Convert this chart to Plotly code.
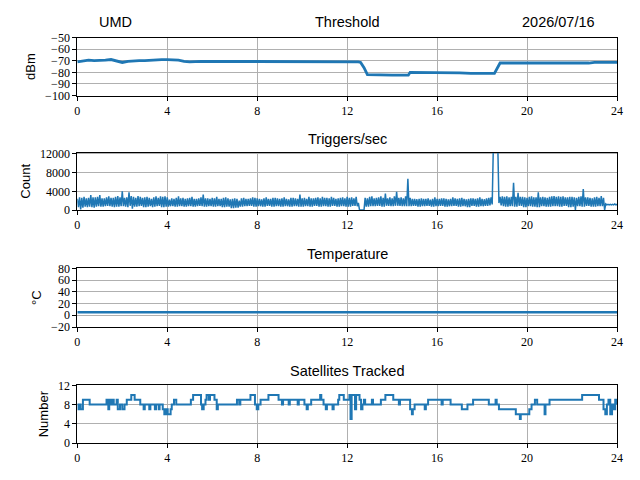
import numpy as np
import plotly.graph_objects as go
from plotly.subplots import make_subplots

# 閾値 (dBm)
thr_hours = [0, 0.25, 0.5, 0.75, 1.0, 1.25, 1.5, 1.75, 2.0, 2.25, 2.5, 2.75,
             3.0, 3.25, 3.5, 3.75, 4.0, 4.25, 4.5, 4.75, 5.0, 5.5, 6.0, 6.5,
             7.0, 7.5, 8.0, 8.5, 9.0, 9.5, 10.0, 10.5, 11.0, 11.5, 12.0, 12.5,
             12.6, 12.75, 12.9, 13.5, 14.0, 14.5, 14.72, 14.8, 15.0, 15.5,
             16.0, 16.5, 17.0, 17.5, 18.0, 18.4, 18.55, 18.8, 19.0, 19.5,
             20.0, 20.5, 21.0, 21.5, 22.0, 22.25, 22.5, 22.75, 23.0, 23.5, 24.0]
thr_dbm = [-71, -70.5, -69.5, -70, -70, -69.5, -69, -70, -71.5, -70.5, -70, -70,
           -70, -69.5, -69, -69, -69, -69, -69.5, -70.5, -71, -70.5, -70.5, -70.5,
           -70.5, -70.5, -70.5, -70.5, -70.5, -70.5, -70.5, -71, -71, -71, -71, -71,
           -71.5, -76, -82, -82.5, -82.5, -82.5, -82.5, -80, -80, -80,
           -80, -80, -80.5, -81, -81, -81.5, -81, -72, -72, -72,
           -72, -72, -72, -72, -72, -72.5, -72.5, -72, -71.5, -71.5, -71.5]

# トリガー数: 0.1時間ごとの最大値と最小値
trig_max = [
    2400, 2700, 2600, 2800, 2500, 2600, 3200, 2700, 2700, 2800,
    3200, 2500, 2500, 2700, 2900, 2600, 2600, 2800, 3000, 2700,
    4000, 2600, 2700, 3800, 3000, 2800, 2600, 3000, 2800, 2600,
    2700, 2800, 2600, 2400, 2700, 2900, 2600, 2900, 2800, 2900,
    2700, 2200, 2500, 2400, 2600, 2900, 2500, 2600, 2400, 2500,
    2600, 2800, 2400, 2400, 2500, 2700, 3300, 2500, 2500, 2400,
    2600, 2500, 2800, 2400, 2400, 2600, 2700, 2500, 2300, 2400,
    2500, 2400, 2000, 2500, 2600, 2400, 2400, 2500, 2700, 2600,
    2500, 2400, 2300, 2500, 2700, 2400, 2400, 2600, 2600, 2500,
    2400, 2500, 2700, 2400, 2300, 2600, 2600, 2500, 2400, 3300,
    2500, 2600, 2400, 2800, 2500, 2500, 2600, 2700, 2500, 2800,
    2600, 2600, 2500, 2800, 2600, 2400, 2500, 2600, 2700, 2500,
    2800, 2600, 2700, 2500, 2800, 1500, 0, 0, 2600, 2500,
    2800, 2900, 2500, 2600, 2700, 2900, 2600, 3500, 2500, 2700,
    2500, 2900, 3900, 2600, 2700, 2500, 2900, 6700, 2600, 2400,
    2400, 2300, 2400, 2500, 2400, 2400, 2500, 2200, 2400, 2700,
    2400, 2400, 2500, 2500, 2400, 2300, 2400, 2700, 2500, 2400,
    2500, 2600, 2400, 2300, 2400, 2500, 2500, 2400, 2500, 2700,
    2400, 2300, 2500, 2600, 2700, 13500, 13500, 13500, 2800, 2900,
    2800, 2900, 2700, 2800, 5800, 2800, 3700, 2800, 2800, 2700,
    2600, 2800, 2900, 2700, 2700, 3800, 2700, 2800, 2700, 2600,
    2800, 2900, 3000, 2800, 2900, 2800, 2900, 2700, 2700, 2800,
    2800, 2700, 2600, 2800, 2900, 4500, 2700, 2700, 2600, 2500,
    2700, 2800, 2600, 3000, 2600, 1300, 1200, 1200, 1200, 1300,
    1200,
]
trig_min = [
    600, 100, 500, 700, 600, 700, 600, 500, 700, 800,
    700, 700, 800, 900, 800, 700, 600, 700, 700, 800,
    800, 700, 600, 900, 300, 700, 700, 800, 900, 600,
    600, 700, 800, 600, 700, 800, 900, 600, 600, 700,
    700, 800, 800, 700, 700, 800, 800, 700, 700, 800,
    800, 700, 700, 800, 900, 800, 700, 700, 800, 800,
    700, 700, 800, 800, 600, 600, 700, 700, 400, 400,
    500, 500, 700, 700, 800, 800, 900, 900, 700, 700,
    800, 800, 700, 700, 900, 900, 700, 700, 800, 800,
    700, 700, 800, 800, 700, 700, 800, 800, 700, 700,
    700, 800, 800, 700, 700, 900, 900, 700, 700, 800,
    800, 700, 700, 900, 900, 700, 700, 800, 800, 700,
    700, 700, 900, 900, 800, 0, 0, 0, 700, 700,
    800, 800, 800, 900, 900, 700, 700, 900, 900, 800,
    800, 900, 900, 900, 800, 800, 800, 800, 800, 900,
    900, 700, 700, 800, 800, 900, 900, 700, 700, 800,
    800, 900, 900, 700, 700, 800, 800, 900, 900, 700,
    700, 800, 800, 600, 600, 900, 900, 700, 700, 800,
    800, 900, 900, 1000, 1200, 13000, 13000, 1500, 1000, 800,
    700, 700, 800, 800, 700, 700, 900, 900, 600, 600,
    800, 800, 700, 700, 600, 600, 800, 800, 700, 700,
    700, 800, 800, 800, 700, 700, 900, 900, 600, 600,
    700, 0, 800, 800, 700, 700, 900, 900, 700, 700,
    700, 800, 800, 800, 0, 1100, 1100, 1100, 1100, 1100,
    1100,
]
assert len(trig_max) == len(trig_min) == 241
trig_bins = np.arange(len(trig_max)) * 0.1
trig_hours = np.empty(2 * len(trig_bins))
trig_hours[0::2] = trig_bins
trig_hours[1::2] = trig_bins + 0.05
trig_counts = np.empty(2 * len(trig_bins))
trig_counts[0::2] = trig_max
trig_counts[1::2] = trig_min

# 温度 (°C)
temp_hours = [0, 4, 8, 12, 16, 20, 24]
temp_c = [5, 5, 5, 5, 5, 5, 5]

# 追尾衛星数
sat_hours = [
    0.00, 0.05, 0.10, 0.15, 0.25, 0.55,
    1.30, 1.38, 1.42, 1.50, 1.58, 1.62, 1.75, 1.80, 1.90, 2.00, 2.10, 2.20,
    2.40, 2.55, 2.80, 2.95, 3.00, 3.20, 3.25, 3.45, 3.50, 3.62, 3.66, 3.80,
    3.87, 3.95, 4.02, 4.15, 4.20, 4.30, 4.40,
    5.05, 5.15, 5.50, 5.55, 5.62, 5.70, 5.75, 5.85, 5.90, 6.10, 6.20, 6.25, 6.40,
    7.10, 7.20, 7.25, 7.70, 7.90, 7.98, 8.05, 8.15, 8.50, 8.95, 9.10, 9.15,
    9.40, 9.45, 9.80, 9.85, 10.10, 10.20, 10.25, 10.40,
    10.80, 10.85, 10.95, 11.05, 11.10, 11.35, 11.40, 11.60, 11.65, 11.85,
    12.10, 12.15, 12.20, 12.35, 12.40, 12.55, 12.62, 12.68, 12.75, 12.80,
    13.10, 13.15, 13.50, 13.70, 14.05, 14.30, 14.35, 14.80, 14.88, 14.92,
    15.00, 15.45, 15.50, 15.60, 15.90, 16.20, 16.25, 16.60, 17.10, 17.35,
    17.60, 18.30, 18.60, 18.65, 18.75, 19.20, 19.50, 19.68, 19.72, 20.10,
    20.20, 20.35, 20.45, 20.78, 20.82, 21.00, 22.45, 23.20, 23.40, 23.48,
    23.55, 23.62, 23.70, 23.78, 23.85, 23.92, 24.00,
]
sat_counts = [
    8, 7, 8, 7, 9, 8,
    9, 7, 9, 8, 9, 8, 9, 7, 8, 7, 8, 9,
    10, 9, 8, 7, 8, 7, 8, 7, 8, 7, 8, 7,
    6, 7, 6, 7, 8, 9, 8,
    9, 10, 8, 7, 8, 9, 10, 9, 10, 9, 7, 8, 8,
    9, 8, 9, 10, 8, 7, 8, 9, 10, 9, 8, 9,
    8, 9, 8, 9, 8, 7, 8, 9,
    10, 9, 8, 7, 8, 7, 8, 9, 10, 9,
    10, 5, 10, 7, 10, 9, 7, 8, 9, 8,
    9, 8, 9, 10, 9, 8, 9, 7, 6, 7,
    8, 7, 8, 9, 9, 8, 9, 8, 7, 8,
    9, 8, 9, 8, 7, 7, 6, 5, 6, 7,
    8, 9, 8, 6, 8, 9, 10, 9, 7, 6,
    8, 9, 6, 8, 7, 9, 8,
]
assert len(sat_hours) == len(sat_counts)
assert len(thr_hours) == len(thr_dbm)

# ページ余白 8px を考慮して図を少し小さくする
W, H, OFF = 624, 464, 8


def px_x(px):
    return (px - OFF) / W


def px_y(py):
    return 1 - (py - OFF) / H


line_color = '#1f77b4'
tick_font = dict(family='Liberation Serif', size=12, color='black')
label_font = dict(family='Liberation Sans', size=13, color='black')

fig = make_subplots(rows=4, cols=1)

fig.add_trace(go.Scatter(x=thr_hours, y=thr_dbm, mode='lines',
                         line=dict(color=line_color, width=2.8)), row=1, col=1)
fig.add_trace(go.Scatter(x=trig_hours, y=trig_counts, mode='lines',
                         line=dict(color=line_color, width=1.5)), row=2, col=1)
fig.add_trace(go.Scatter(x=temp_hours, y=temp_c, mode='lines',
                         line=dict(color=line_color, width=2.5)), row=3, col=1)
fig.add_trace(go.Scatter(x=sat_hours, y=sat_counts, mode='lines', line_shape='hv',
                         line=dict(color=line_color, width=2)), row=4, col=1)

# 各パネルの位置 (ピクセルから換算)
x_dom = [px_x(77.3), px_x(617)]
y_doms = [
    [px_y(95.5), px_y(37.5)],
    [px_y(210), px_y(152.6)],
    [px_y(327), px_y(268.3)],
    [px_y(443), px_y(385.3)],
]
y_ranges = [[-100, -50], [0, 12280], [-20, 80], [0, 12]]
y_dticks = [10, 4000, 20, 4]
y_titles = ['dBm', 'Count', '°C', 'Number']

axis_common = dict(
    showline=True, linecolor='black', linewidth=1, mirror=True,
    ticks='outside', ticklen=4, tickwidth=0.8, tickcolor='black',
    showgrid=True, gridcolor='#b0b0b0', gridwidth=0.8, zeroline=False,
    tickfont=tick_font,
)

for i in range(4):
    fig.update_xaxes(domain=x_dom, range=[0, 24], dtick=4, tick0=0,
                     **axis_common, row=i + 1, col=1)
    fig.update_yaxes(domain=y_doms[i], range=y_ranges[i], dtick=y_dticks[i],
                     tickformat='d',
                     title=dict(text=y_titles[i], font=label_font, standoff=6),
                     **axis_common, row=i + 1, col=1)

# タイトル
title_font = dict(family='Liberation Sans', size=14.5, color='black')
titles = [
    ('UMD', 97, 'left', 22),
    ('Threshold', 347, 'center', 22),
    ('2026/07/16', 597, 'right', 22),
    ('Triggers/sec', 347, 'center', 139),
    ('Temperature', 347, 'center', 254),
    ('Satellites Tracked', 347, 'center', 371),
]
for text, px, anchor, py in titles:
    fig.add_annotation(text=text, x=px_x(px), y=px_y(py), xref='paper', yref='paper',
                       xanchor=anchor, yanchor='middle', showarrow=False,
                       font=title_font)

fig.update_layout(
    width=W, height=H,
    margin=dict(l=0, r=0, t=0, b=0, autoexpand=False),
    paper_bgcolor='white', plot_bgcolor='white',
    showlegend=False,
)

fig.write_html("out.html")
